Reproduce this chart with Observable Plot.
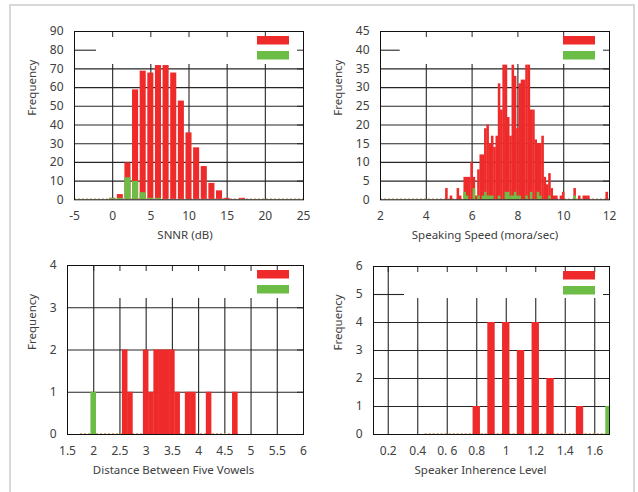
<!DOCTYPE html>
<html><head><meta charset="utf-8">
<script src="https://cdn.jsdelivr.net/npm/d3@7"></script>
<script src="https://cdn.jsdelivr.net/npm/@observablehq/plot@0.6"></script>
<style>
body{margin:0;background:#fff;}
#wrap{position:relative;width:638px;height:492px;overflow:hidden;background:#fff;}
#border{position:absolute;left:9px;top:4px;width:622px;height:540px;border:2px solid #d8d8d8;}
.panel{position:absolute;}
</style></head><body>
<div id="wrap"><div id="border"></div></div>
<script>
// ---------- data ----------
// Panel 1: SNNR (dB), bins of 1 dB
const snnrX     = [0, 1, 2, 3, 4, 5, 6, 7, 8, 9, 10, 11, 12, 13, 14, 15, 17];
const snnrRed   = [1, 3, 20, 59, 69, 68, 72, 72, 68, 53, 36, 28, 18, 9, 5, 1, 1];
const snnrGX    = [0, 1, 2, 3, 4, 5, 6];
const snnrGreen = [1, 1, 12, 10, 4, 1, 1];
const snnrTicks = [-5, 0, 5, 10, 15, 20, 25];
const snnrYTicks = [0, 10, 20, 30, 40, 50, 60, 70, 80, 90];

// Panel 2: speaking speed (mora/sec), bins of 0.1
const speedX   = [4.9, 5.1, 5.4, 5.5, 5.7, 5.8, 5.9, 6.0, 6.1, 6.2, 6.3, 6.4, 6.5, 6.6, 6.7, 6.8, 6.9, 7.0, 7.1, 7.2, 7.3, 7.4, 7.5, 7.6, 7.7, 7.8, 7.9, 8.0, 8.1, 8.2, 8.3, 8.4, 8.5, 8.6, 8.7, 8.8, 8.9, 9.0, 9.1, 9.2, 9.3, 9.4, 9.5, 9.6, 9.7, 9.9, 10.0, 10.5, 10.7, 10.9, 11.0, 11.1, 11.9];
const speedRed = [3, 1, 3, 1, 6, 6, 6, 10, 6, 1, 8, 12, 12, 19, 20, 15, 17, 14, 17, 31, 24, 36, 36, 22, 17, 36, 33, 19, 31, 32, 32, 36, 36, 24, 24, 16, 15, 15, 17, 6, 4, 7, 3, 1, 1, 1, 2, 3, 1, 1, 1, 1, 2];
const speedGX    = [5.7, 5.8, 6.1, 6.3, 6.5, 6.6, 6.7, 6.8, 6.9, 7.2, 7.5, 7.6, 7.7, 7.8, 7.9, 8.0, 8.1, 8.4, 8.6, 8.9, 9.0, 9.4, 10.5];
const speedGreen = [2, 1, 3, 1, 1, 2, 1, 1, 1, 1, 2, 2, 1, 1, 2, 1, 1, 1, 2, 2, 1, 1, 1];
const speedTicks = [2, 4, 6, 8, 10, 12];
const speedYTicks = [0, 5, 10, 15, 20, 25, 30, 35, 40, 45];

// Panel 3: distance between five vowels, bins of 0.1
const vowX     = [2.6, 2.7, 3.0, 3.1, 3.2, 3.3, 3.4, 3.5, 3.6, 3.8, 3.9, 4.2, 4.7];
const vowRed   = [2, 1, 2, 1, 2, 2, 2, 2, 1, 1, 1, 1, 1];
const vowGX    = [2.0];
const vowGreen = [1];
const vowTicks = [1.5, 2, 2.5, 3, 3.5, 4, 4.5, 5, 5.5, 6];
const vowYTicks = [0, 1, 2, 3, 4];

// Panel 4: speaker inherence level
const inhX     = [0.8, 0.9, 1.0, 1.1, 1.2, 1.3, 1.5];
const inhRed   = [1, 4, 4, 3, 4, 2, 1];
const inhGX    = [1.7];
const inhGreen = [1];
const inhTicks = [0.2, 0.4, 0.6, 0.8, 1.0, 1.2, 1.4, 1.6];
const inhTickLabels = ["0.2", "0.4", "0. 6", "0.8", "1", "1.2", "1.4", "1.6"];
const inhYTicks = [0, 1, 2, 3, 4, 5, 6];

// ---------- drawing ----------
const RED = "#ee2a2a", GREEN = "#6cbd45", TAN = "#cfae7c", GRID = "#262626";
const FONT = "'Noto Sans', 'Open Sans', sans-serif";

function makePanel(cfg) {
  const W = 319, H = 246;
  const {L, R, T, B} = cfg.box;
  const [x0, x1] = cfg.xDomain, [y0, y1] = cfg.yDomain;
  const px2x = p => x0 + (p - L) / (R - L) * (x1 - x0);
  const px2y = p => y0 + (B - p) / (B - T) * (y1 - y0);
  const keyL = px2x(L + cfg.keyDx), keyB = px2y(T + cfg.keyDy);
  const vGrid = cfg.xTicks.filter(v => v > x0 + 1e-9 && v < x1 - 1e-9);
  const hGrid = cfg.yTicks.filter(v => v > y0 && v < y1);
  const red = cfg.redX.map((x, i) => ({x, n: cfg.redN[i]}));
  const green = cfg.greenX.map((x, i) => ({x, n: cfg.greenN[i]}));
  const h = cfg.half;
  const labels = cfg.xTickLabels || cfg.xTicks.map(String);
  const marks = [
    Plot.ruleX(vGrid, {x: d => d, y1: y0, y2: d => d >= keyL ? keyB : y1, stroke: GRID, strokeWidth: 1.1}),
    Plot.ruleY(hGrid, {y: d => d, x1: x0, x2: d => d >= keyB ? keyL : x1, stroke: GRID, strokeWidth: 1.1}),
    Plot.ruleX(vGrid, {x: d => d, y1: y1, y2: px2y(T + 6), stroke: GRID}),
    Plot.ruleY(hGrid, {y: d => d, x1: x1, x2: px2x(R - 6), stroke: GRID}),
    Plot.ruleY([0], {x1: cfg.base[0], x2: cfg.base[1], stroke: TAN, strokeDasharray: "2,2", dy: -1}),
    Plot.rect(red, {x1: d => Math.max(x0, d.x - h), x2: d => Math.min(x1, d.x + h), y1: 0, y2: "n", fill: RED, inset: cfg.inset}),
    Plot.rect(green, {x1: d => Math.max(x0, d.x - h), x2: d => Math.min(x1, d.x + h), y1: 0, y2: "n", fill: GREEN, inset: cfg.inset}),
    Plot.rect([0], {x1: px2x(R - 46), x2: px2x(R - 14), y1: px2y(T + 13.5), y2: px2y(T + 5), fill: RED}),
    Plot.rect([0], {x1: px2x(R - 46), x2: px2x(R - 14), y1: px2y(T + 28.5), y2: px2y(T + 20), fill: GREEN}),
    Plot.frame({stroke: "#111", strokeWidth: 1}),
    Plot.text(cfg.xTicks, {x: d => d, y: y0, text: (d, i) => labels[i], dy: 16.5, fontSize: 12}),
    Plot.text(cfg.yTicks, {x: x0, y: d => d, text: d => String(d), textAnchor: "end", dx: -11, fontSize: 12}),
    Plot.text([cfg.xLabel], {frameAnchor: "bottom", dy: 39.5, dx: cfg.labelDx, fontSize: 11.5}),
    Plot.text(["Frequency"], {frameAnchor: "left", rotate: -90, dx: cfg.yLabelDx, fontSize: 11.5})
  ];
  const svg = Plot.plot({
    width: W, height: H,
    marginLeft: L, marginRight: W - R, marginTop: T, marginBottom: H - B,
    x: {domain: cfg.xDomain, axis: null},
    y: {domain: cfg.yDomain, axis: null},
    style: {fontFamily: FONT, color: "#404040", background: "transparent", overflow: "visible"},
    marks
  });
  svg.classList.add("panel");
  svg.style.left = cfg.left + "px";
  svg.style.top = cfg.top + "px";
  document.getElementById("wrap").appendChild(svg);
}

makePanel({
  left: 0, top: 0, box: {L: 74, R: 303, T: 31, B: 199.3},
  xDomain: [-5, 25], yDomain: [0, 90], xTicks: snnrTicks, yTicks: snnrYTicks,
  redX: snnrX, redN: snnrRed, greenX: snnrGX, greenN: snnrGreen, half: 0.45, inset: 0.4,
  keyDx: 22, keyDy: 33, base: [-5, 25], xLabel: "SNNR (dB)", labelDx: -4, yLabelDx: -42
});
makePanel({
  left: 319, top: 0, box: {L: 61, R: 290, T: 31, B: 199.3},
  xDomain: [2, 12], yDomain: [0, 45], xTicks: speedTicks, yTicks: speedYTicks,
  redX: speedX, redN: speedRed, greenX: speedGX, greenN: speedGreen, half: 0.056, inset: 0,
  keyDx: 19.7, keyDy: 33, base: [2, 12], xLabel: "Speaking Speed (mora/sec)", labelDx: -10, yLabelDx: -42
});
makePanel({
  left: 0, top: 246, box: {L: 67, R: 303, T: 19, B: 188},
  xDomain: [1.5, 6], yDomain: [0, 4], xTicks: vowTicks, yTicks: vowYTicks,
  redX: vowX, redN: vowRed, greenX: vowGX, greenN: vowGreen, half: 0.053, inset: 0,
  keyDx: 31, keyDy: 33, base: [1.75, 4.8], xLabel: "Distance Between Five Vowels", labelDx: -12, yLabelDx: -35
});
makePanel({
  left: 319, top: 246, box: {L: 54, R: 290, T: 20, B: 188},
  xDomain: [0.1, 1.7], yDomain: [0, 6], xTicks: inhTicks, xTickLabels: inhTickLabels, yTicks: inhYTicks,
  redX: inhX, redN: inhRed, greenX: inhGX, greenN: inhGreen, half: 0.025, inset: 0,
  keyDx: 31, keyDy: 32, base: [0.45, 1.7], xLabel: "Speaker Inherence Level", labelDx: -11, yLabelDx: -35
});
</script>
</body></html>
